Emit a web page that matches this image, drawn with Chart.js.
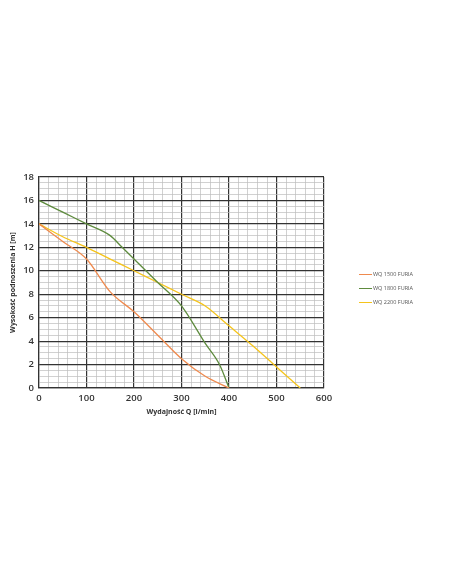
<!DOCTYPE html>
<html lang="pl">
<head>
    <meta charset="UTF-8">
    <title>Charakterystyka pomp WQ FURIA</title>
    <script src="https://cdn.jsdelivr.net/npm/chart.js@4/dist/chart.umd.min.js"></script>
    <style>
        body {
            margin: 0;
            background: #fff;
            font-family: "Open Sans", Arial, sans-serif;
        }
        .wrap {
            position: relative;
            width: 452px;
            height: 584px;
        }
        .legend {
            position: absolute;
            left: 359px;
            top: 267px;
            font-size: 5.5px;
            color: #555;
        }
        .legend div {
            height: 14px;
            line-height: 10px;
            display: flex;
            align-items: center;
        }
        .legend span.sw {
            display: inline-block;
            width: 13px;
            height: 1px;
            margin-right: 1px;
        }
    </style>
</head>
<body>
<div class="wrap">
    <canvas id="chart" width="452" height="584"></canvas>
    <div class="legend" id="legend"></div>
</div>
<script>
    // Q [l/min] -> H [m]
    const q1500 = [0, 50, 100, 150, 200, 250, 300, 350, 400];
    const h1500 = [14, 12.5, 11, 8.2, 6.5, 4.5, 2.5, 1.0, 0];

    const q1800 = [0, 50, 100, 150, 175, 200, 250, 300, 350, 380, 400];
    const h1800 = [16, 15, 14, 13, 12, 11, 9, 7, 3.8, 2, 0];

    const q2200 = [0, 50, 100, 150, 200, 250, 300, 350, 400, 450, 500, 550];
    const h2200 = [14, 12.9, 12, 11, 10, 9, 8, 7, 5.3, 3.6, 1.8, 0];

    const seriesNames = ['WQ 1500 FURIA', 'WQ 1800 FURIA', 'WQ 2200 FURIA'];
    const seriesColors = ['#ef8a4e', '#5e8b3e', '#f5c41c'];

    const xMajorTicks = [0, 100, 200, 300, 400, 500, 600];
    const yMajorTicks = [0, 2, 4, 6, 8, 10, 12, 14, 16, 18];

    const toPoints = (xs, ys) => xs.map((x, i) => ({ x: x, y: ys[i] }));

    const ds = [toPoints(q1500, h1500), toPoints(q1800, h1800), toPoints(q2200, h2200)].map((data, i) => ({
        label: seriesNames[i],
        data: data,
        borderColor: seriesColors[i],
        borderWidth: 1.3,
        pointRadius: 0,
        cubicInterpolationMode: 'monotone',
        fill: false
    }));

    const tickFont = { family: 'Open Sans', size: 9.5, weight: '600' };

    new Chart(document.getElementById('chart'), {
        type: 'line',
        data: { datasets: ds },
        options: {
            responsive: false,
            animation: false,
            layout: { padding: { left: 9, top: 177, right: 128, bottom: 168 } },
            plugins: { legend: { display: false }, tooltip: { enabled: false } },
            scales: {
                x: {
                    type: 'linear',
                    min: 0,
                    max: 600,
                    afterFit: s => { s.height = 28; },
                    ticks: {
                        stepSize: 20,
                        autoSkip: false,
                        maxRotation: 0,
                        padding: 5,
                        color: '#333',
                        font: tickFont,
                        callback: v => xMajorTicks.includes(v) ? v : ''
                    },
                    grid: {
                        drawTicks: false,
                        color: c => c.tick && c.tick.value % 100 === 0 ? '#333' : '#bdbdbd',
                        lineWidth: c => c.tick && c.tick.value % 100 === 0 ? 1.2 : 0.7
                    },
                    border: { color: '#333', width: 1.2 },
                    title: {
                        display: true,
                        text: 'Wydajność Q [l/min]',
                        color: '#333',
                        font: { family: 'Open Sans', size: 7, weight: '700' },
                        padding: { top: 2, bottom: 0 }
                    }
                },
                y: {
                    min: 0,
                    max: 18,
                    afterFit: s => { s.width = 30; },
                    ticks: {
                        stepSize: 0.5,
                        autoSkip: false,
                        padding: 5,
                        color: '#333',
                        font: tickFont,
                        callback: v => yMajorTicks.includes(v) ? v : ''
                    },
                    grid: {
                        drawTicks: false,
                        color: c => c.tick && c.tick.value % 2 === 0 ? '#333' : '#bdbdbd',
                        lineWidth: c => c.tick && c.tick.value % 2 === 0 ? 1.2 : 0.7
                    },
                    border: { color: '#333', width: 1.2 },
                    title: {
                        display: true,
                        text: 'Wysokość podnoszenia H [m]',
                        color: '#333',
                        font: { family: 'Open Sans', size: 7, weight: '700' },
                        padding: { top: 0, bottom: 2 }
                    }
                }
            }
        }
    });

    // legend on the right, as in the original sheet
    const legend = document.getElementById('legend');
    seriesNames.forEach((name, i) => {
        const row = document.createElement('div');
        const sw = document.createElement('span');
        sw.className = 'sw';
        sw.style.background = seriesColors[i];
        row.appendChild(sw);
        row.appendChild(document.createTextNode(name));
        legend.appendChild(row);
    });
</script>
</body>
</html>
